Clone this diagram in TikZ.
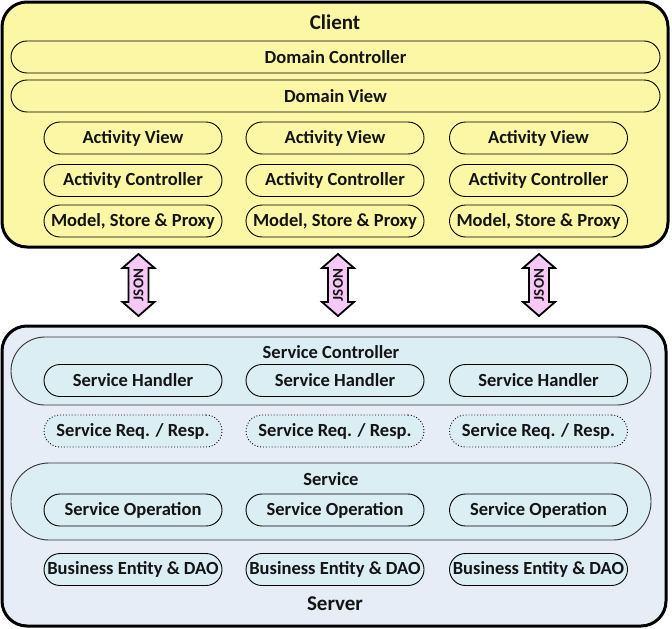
\documentclass[tikz,border=0pt]{standalone}
\usepackage{fontspec}
\setmainfont{Carlito}
\definecolor{cyel}{RGB}{251,247,165}
\definecolor{sbg}{RGB}{231,237,246}
\definecolor{scyan}{RGB}{219,238,243}
\definecolor{jpink}{RGB}{246,200,246}
\definecolor{txt}{RGB}{20,20,20}
\tikzset{
  outerbox/.style={draw=black, line width=3pt, rounded corners=25pt, inner sep=0pt},
  pill/.style={draw=black, line width=0.9pt, rounded corners=16pt, minimum width=178pt, minimum height=32pt, inner sep=0pt, text=txt, font=\fontsize{18.5}{21}\selectfont\bfseries},
  widepill/.style={pill, minimum width=649pt},
  group/.style={draw=black!80, line width=0.9pt, inner sep=0pt, text=txt},
  titletext/.style={font=\fontsize{21}{25}\selectfont\bfseries, text=txt},
  labeltext/.style={font=\fontsize{18.5}{21}\selectfont\bfseries, text=txt},
  jsonarrow/.style={draw=black, line width=1.8pt, fill=jpink, line join=miter},
}
\begin{document}
\begin{tikzpicture}[x=1pt,y=-1pt]
\useasboundingbox (0,0) rectangle (672,629);
% Client
\node[outerbox, fill=cyel, minimum width=666pt, minimum height=245pt] (client) at (335,124.5) {};
\node[titletext] (clientlbl) at (335,22) {Client};
\node[widepill, fill=cyel] (dc) at (335.5,57) {Domain Controller};
\node[widepill, fill=cyel] (dv) at (335.5,96) {Domain View};
\foreach \i/\cx in {1/133,2/335,3/538.5}{
  \node[pill, fill=cyel] (av\i) at (\cx,138) {Activity View};
  \node[pill, fill=cyel] (ac\i) at (\cx,180.5) {Activity Controller};
  \node[pill, fill=cyel] (msp\i) at (\cx,221) {Model, Store \& Proxy};
}
% JSON arrows
\foreach \i/\ax in {1/138.5,2/338,3/539}{
  \draw[jsonarrow] (\ax,254) -- (\ax+16,268) -- (\ax+10,268) -- (\ax+10,302) -- (\ax+16,302)
    -- (\ax,316) -- (\ax-16,302) -- (\ax-10,302) -- (\ax-10,268) -- (\ax-16,268) -- cycle;
  \node[rotate=90, font=\fontsize{15}{17}\selectfont\bfseries, text=txt] (json\i) at (\ax,285) {JSON};
}
% Server
\node[outerbox, fill=sbg, minimum width=664pt, minimum height=300pt] (server) at (334,476) {};
\node[titletext] (serverlbl) at (335,604) {Server};
\node[group, fill=scyan, rounded corners=34pt, minimum width=640pt, minimum height=68pt] (sc) at (331,371) {};
\node[labeltext] (sclbl) at (331,352) {Service Controller};
\node[group, fill=scyan, rounded corners=38pt, minimum width=640pt, minimum height=77pt] (svc) at (331,501.5) {};
\node[labeltext] (svclbl) at (331,479) {Service};
\foreach \i/\cx in {1/133,2/335,3/538.5}{
  \node[pill, fill=scyan] (sh\i) at (\cx,380.5) {Service Handler};
  \node[pill, fill=scyan, dotted] (sr\i) at (\cx,431) {Service Req. / Resp.};
  \node[pill, fill=scyan] (so\i) at (\cx,510) {Service Operation};
  \node[pill, fill=scyan] (be\i) at (\cx,569.5) {Business Entity \& DAO};
}
\end{tikzpicture}
\end{document}
